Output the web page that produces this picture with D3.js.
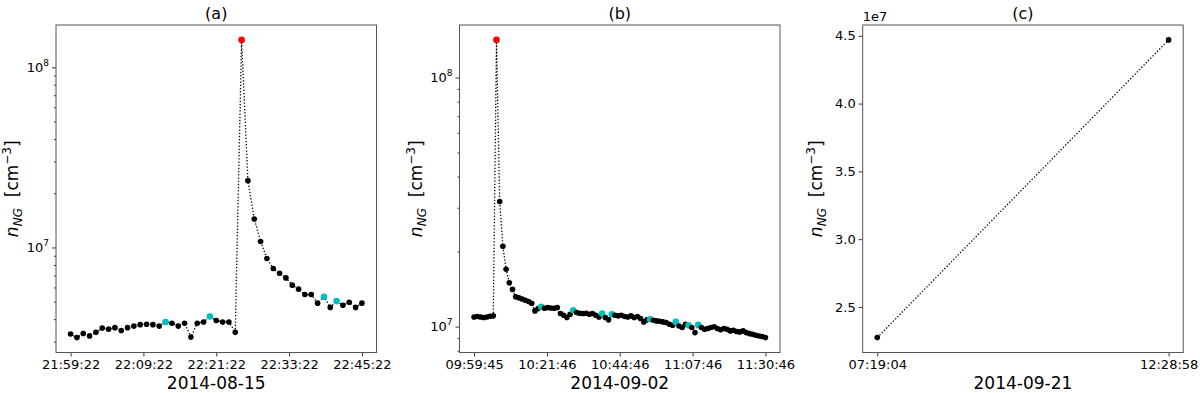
<!DOCTYPE html>
<html>
<head>
<meta charset="utf-8">
<script src="https://cdn.jsdelivr.net/npm/d3@7/dist/d3.min.js"></script>
<style>
  body { margin: 0; background: #fff; }
  text { font-family: "DejaVu Sans", sans-serif; fill: #000; }
</style>
</head>
<body>
<div id="chart"></div>
<script>
const svgwidth = 1200;
const svgheight = 393;

// panel (a) 2014-08-15, density in cm^-3, one point per sample
const aValues = [3.31e6, 3.16e6, 3.33e6, 3.23e6, 3.38e6, 3.57e6, 3.52e6, 3.59e6, 3.46e6, 3.59e6,
  3.66e6, 3.73e6, 3.75e6, 3.73e6, 3.66e6, 3.86e6, 3.80e6, 3.66e6, 3.80e6, 3.18e6,
  3.80e6, 3.86e6, 4.14e6, 3.93e6, 3.86e6, 3.86e6, 3.38e6, 1.42e8, 2.35e7, 1.44e7,
  1.08e7, 8.69e6, 7.64e6, 7.19e6, 6.78e6, 6.18e6, 5.87e6, 5.48e6, 5.48e6, 4.91e6,
  5.32e6, 4.65e6, 5.04e6, 4.78e6, 4.97e6, 4.65e6, 4.91e6];
const aCyan = [15, 22, 40, 42];
const aRed = [27];
const aTickLabels = ["21:59:22", "22:09:22", "22:21:22", "22:33:22", "22:45:22"];

// panel (b) 2014-09-02
const bValues = [1.093e7, 1.097e7, 1.093e7, 1.087e7, 1.093e7, 1.100e7, 1.104e7, 1.416e8, 3.18e7, 2.10e7,
  1.70e7, 1.50e7, 1.41e7, 1.316e7, 1.304e7, 1.291e7, 1.276e7, 1.260e7, 1.241e7, 1.156e7,
  1.181e7, 1.200e7, 1.185e7, 1.192e7, 1.188e7, 1.185e7, 1.192e7, 1.128e7, 1.110e7, 1.087e7,
  1.121e7, 1.163e7, 1.138e7, 1.131e7, 1.128e7, 1.131e7, 1.121e7, 1.128e7, 1.110e7, 1.093e7,
  1.128e7, 1.087e7, 1.064e7, 1.121e7, 1.110e7, 1.104e7, 1.110e7, 1.097e7, 1.093e7, 1.104e7,
  1.087e7, 1.097e7, 1.077e7, 1.044e7, 1.064e7, 1.070e7, 1.060e7, 1.054e7, 1.051e7, 1.044e7,
  1.038e7, 1.022e7, 1.012e7, 1.044e7, 1.006e7, 0.991e7, 1.022e7, 1.012e7, 0.991e7, 0.946e7,
  1.016e7, 0.991e7, 0.976e7, 0.982e7, 0.991e7, 0.998e7, 0.982e7, 0.970e7, 0.982e7, 0.976e7,
  0.961e7, 0.967e7, 0.955e7, 0.952e7, 0.961e7, 0.946e7, 0.937e7, 0.932e7, 0.923e7, 0.917e7,
  0.912e7, 0.903e7];
const bCyan = [21, 31, 40, 43, 55, 63, 67, 70];
const bRed = [7];
const bTickLabels = ["09:59:45", "10:21:46", "10:44:46", "11:07:46", "11:30:46"];

// panel (c) 2014-09-21
const cTimes = ["07:19:04", "12:28:58"];
const cValues = [2.274e7, 4.47e7];
const cYTicks = [2.5e7, 3.0e7, 3.5e7, 4.0e7, 4.5e7];

const titles = ["(a)", "(b)", "(c)"];
const dates = ["2014-08-15", "2014-09-02", "2014-09-21"];

const panelLeft = [56, 459.5, 862.7];
const pw = 320.5;
const axTop = 25, axBottom = 352.5;
const ph = axBottom - axTop;

const svg = d3.select("#chart").append("svg")
  .attr("width", svgwidth)
  .attr("height", svgheight);

// pad a [lo, hi] pair by 5% like matplotlib does
function pad(lo, hi) {
  const m = (hi - lo) * 0.05;
  return [lo - m, hi + m];
}

function styleAxis(g) {
  g.select(".domain").remove();
  g.selectAll(".tick line").attr("stroke", "#000").attr("stroke-width", 0.8);
  g.selectAll(".tick text").attr("font-size", 13).attr("font-family", "DejaVu Sans");
}

function frame(g, i) {
  g.append("rect")
    .attr("width", pw).attr("height", ph)
    .attr("fill", "none").attr("stroke", "#555").attr("stroke-width", 1);
  g.append("text")
    .attr("x", pw / 2).attr("y", -6)
    .attr("text-anchor", "middle").attr("font-size", 16)
    .text(titles[i]);
  g.append("text")
    .attr("x", pw / 2).attr("y", 364)
    .attr("text-anchor", "middle").attr("font-size", 17)
    .text(dates[i]);
  // y label: n_NG [cm^-3]
  const lab = g.append("text")
    .attr("transform", `translate(${i == 2 ? -41 : -38}, ${ph / 2}) rotate(-90)`)
    .attr("text-anchor", "middle").attr("font-size", 17);
  lab.append("tspan").attr("font-style", "italic").text("n");
  lab.append("tspan").attr("font-style", "italic").attr("font-size", 12).attr("dy", 4).text("NG");
  lab.append("tspan").attr("dy", -4).text("\u00a0\u00a0[cm");
  lab.append("tspan").attr("font-size", 12).attr("dy", -7).text("\u22123");
  lab.append("tspan").attr("dy", 7).text("]");
}

function dots(g, data, x, y, cyan, red) {
  const line = d3.line().x(d => x(d.i)).y(d => y(d.v));
  g.append("path")
    .datum(data)
    .attr("d", line)
    .attr("fill", "none").attr("stroke", "#000")
    .attr("stroke-width", 1.3).attr("stroke-dasharray", "1.3,1.9");
  g.selectAll("circle.pt")
    .data(data)
    .enter()
    .append("circle")
    .attr("class", "pt")
    .attr("cx", d => x(d.i))
    .attr("cy", d => y(d.v))
    .attr("r", d => (cyan.includes(d.i) || red.includes(d.i)) ? 3.3 : 2.8)
    .attr("fill", d => red.includes(d.i) ? "#ff0000" : cyan.includes(d.i) ? "#00bfbf" : "#000");
}

function logPanel(i, values, cyan, red, tickLabels) {
  const g = svg.append("g").attr("transform", `translate(${panelLeft[i]}, ${axTop})`);
  const data = values.map((v, k) => ({ i: k, v: v }));
  const n = values.length - 1;

  const x = d3.scaleLinear().domain(pad(0, n)).range([0, pw]);
  const lx = pad(Math.log10(d3.min(values)), Math.log10(d3.max(values)));
  const y = d3.scaleLog().domain([10 ** lx[0], 10 ** lx[1]]).range([ph, 0]);

  const tickIdx = d3.range(5).map(k => k * n / 4);
  const bottomAxis = d3.axisBottom(x)
    .tickValues(tickIdx)
    .tickFormat((d, k) => tickLabels[k])
    .tickSize(4).tickPadding(3);
  g.append("g").attr("transform", `translate(0, ${ph})`).call(bottomAxis).call(styleAxis);

  // major and minor log ticks
  const yt = [];
  for (let e = Math.floor(lx[0]); e <= Math.ceil(lx[1]); e++) {
    for (let m = 1; m <= 9; m++) {
      const v = m * 10 ** e;
      if (Math.log10(v) >= lx[0] && Math.log10(v) <= lx[1]) yt.push(v);
    }
  }
  const isMajor = v => Math.abs(Math.log10(v) - Math.round(Math.log10(v))) < 1e-9;
  const leftAxis = d3.axisLeft(y).tickValues(yt).tickFormat(() => "").tickSize(4).tickPadding(3);
  const ya = g.append("g").call(leftAxis).call(styleAxis);
  ya.selectAll(".tick line").attr("x2", d => isMajor(d) ? -4 : -2);
  ya.selectAll(".tick text").filter(d => isMajor(d)).each(function(d) {
    const t = d3.select(this);
    t.append("tspan").text("10");
    t.append("tspan").attr("font-size", 9).attr("dy", -6).text(Math.round(Math.log10(d)));
  });

  frame(g, i);
  dots(g, data, x, y, cyan, red);
}

logPanel(0, aValues, aCyan, aRed, aTickLabels);
logPanel(1, bValues, bCyan, bRed, bTickLabels);

// panel (c), linear axis
(function() {
  const g = svg.append("g").attr("transform", `translate(${panelLeft[2]}, ${axTop})`);
  const secs = cTimes.map(t => {
    const p = t.split(":").map(Number);
    return p[0] * 3600 + p[1] * 60 + p[2];
  });
  const data = secs.map((s, k) => ({ i: s, v: cValues[k] }));
  const x = d3.scaleLinear().domain(pad(secs[0], secs[1])).range([0, pw]);
  const y = d3.scaleLinear().domain(pad(d3.min(cValues), d3.max(cValues))).range([ph, 0]);

  const bottomAxis = d3.axisBottom(x)
    .tickValues(secs)
    .tickFormat((d, k) => cTimes[k])
    .tickSize(4).tickPadding(3);
  g.append("g").attr("transform", `translate(0, ${ph})`).call(bottomAxis).call(styleAxis);

  const leftAxis = d3.axisLeft(y)
    .tickValues(cYTicks)
    .tickFormat(d => (d / 1e7).toFixed(1))
    .tickSize(4).tickPadding(3);
  g.append("g").call(leftAxis).call(styleAxis);

  g.append("text").attr("x", 0).attr("y", -4).attr("font-size", 13).text("1e7");

  frame(g, 2);
  dots(g, data, x, y, [], []);
})();
</script>
</body>
</html>
